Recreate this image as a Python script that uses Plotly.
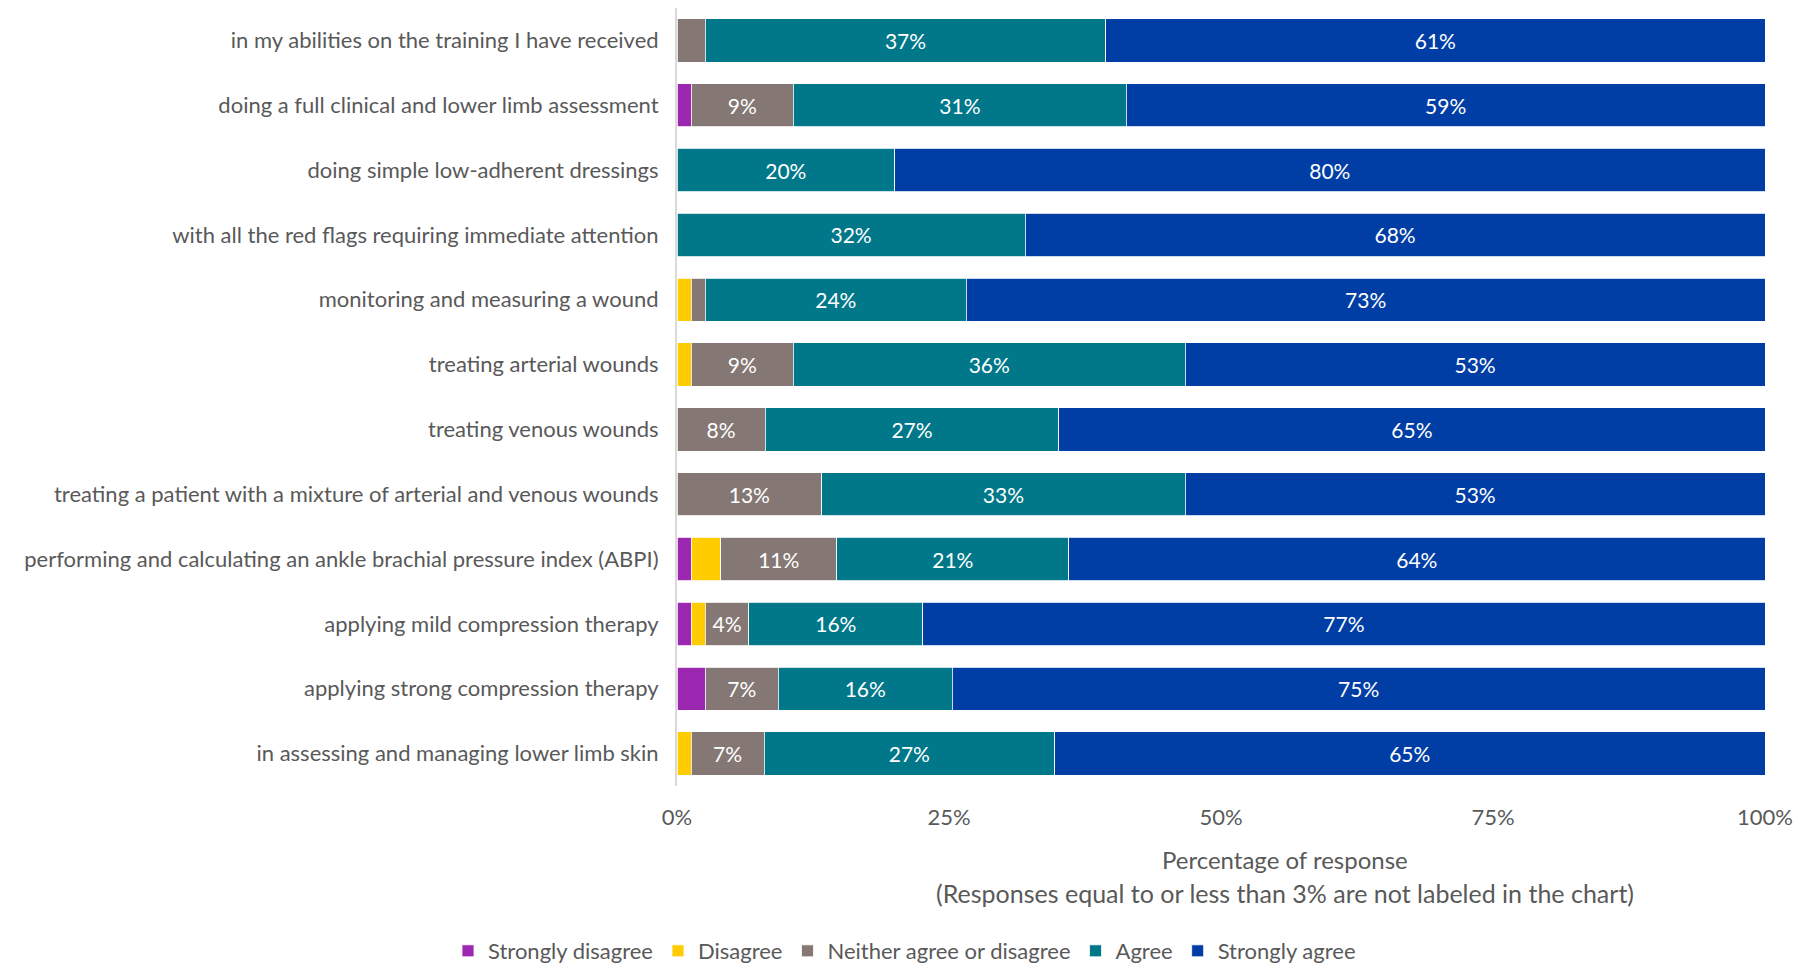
import plotly.graph_objects as go

# Survey statements (top to bottom)
statements = [
    "in my abilities on the training I have received",
    "doing a full clinical and lower limb assessment",
    "doing simple low-adherent dressings",
    "with all the red flags requiring immediate attention",
    "monitoring and measuring a wound",
    "treating arterial wounds",
    "treating venous wounds",
    "treating a patient with a mixture of arterial and venous wounds",
    "performing and calculating an ankle brachial pressure index (ABPI)",
    "applying mild compression therapy",
    "applying strong compression therapy",
    "in assessing and managing lower limb skin",
]

# Percentage of responses per answer option
strongly_disagree = [0, 1.3, 0, 0, 0, 0, 0, 0, 1.3, 1.3, 2.6, 0]
disagree = [0, 0, 0, 0, 1.3, 1.3, 0, 0, 2.7, 1.3, 0, 1.3]
neither = [2.6, 9.4, 0, 0, 1.3, 9.4, 8.1, 13.3, 10.7, 4.0, 6.7, 6.7]
agree = [36.8, 30.6, 20.0, 32.0, 24.0, 36.0, 27.0, 33.4, 21.3, 16.0, 16.0, 26.7]
strongly_agree = [60.6, 58.7, 80.0, 68.0, 73.4, 53.3, 64.9, 53.3, 64.0, 77.4, 74.7, 65.3]

series = [
    ("Strongly disagree", strongly_disagree, "#9C27B0"),
    ("Disagree", disagree, "#FFCC00"),
    ("Neither agree or disagree", neither, "#857874"),
    ("Agree", agree, "#00788A"),
    ("Strongly agree", strongly_agree, "#003EA6"),
]

x_ticks = [0, 25, 50, 75, 100]
x_tick_labels = [f"{v}%" for v in x_ticks]

FONT = "Lato"
GREY_TEXT = "#595959"


def label(v):
    # responses of 3% or less stay unlabelled
    return f"{round(v)}%" if v > 3 else ""


fig = go.Figure()
for name, vals, color in series:
    fig.add_trace(go.Bar(
        name=name,
        y=statements,
        x=vals,
        orientation="h",
        marker=dict(color=color, line=dict(color="white", width=0.8)),
        text=[label(v) for v in vals],
        texttemplate="%{text}",
        textposition="inside",
        insidetextanchor="middle",
        textangle=0,
        textfont=dict(family=FONT, size=21, color="white"),
        hoverinfo="skip",
    ))

fig.update_layout(
    barmode="stack",
    bargap=0.33,
    width=1809,
    height=965,
    margin=dict(l=677, r=44, t=8, b=179),
    paper_bgcolor="white",
    plot_bgcolor="white",
    font=dict(family=FONT, size=22, color=GREY_TEXT),
    xaxis=dict(
        range=[0, 100],
        tickmode="array",
        tickvals=x_ticks,
        ticktext=x_tick_labels,
        showgrid=False,
        zeroline=False,
        showline=False,
        ticks="",
        ticklabelstandoff=16,
        tickfont=dict(family=FONT, size=22, color=GREY_TEXT),
        fixedrange=True,
    ),
    yaxis=dict(
        autorange="reversed",
        showgrid=False,
        zeroline=False,
        showline=True,
        linecolor="#d9d9d9",
        linewidth=2,
        ticks="",
        ticklabelstandoff=12,
        tickfont=dict(family=FONT, size=22, color=GREY_TEXT),
        fixedrange=True,
    ),
    legend=dict(
        orientation="h",
        xref="container",
        yref="container",
        x=0.5,
        xanchor="center",
        y=0.0145,
        yanchor="middle",
        font=dict(family=FONT, size=22, color=GREY_TEXT),
        traceorder="normal",
        itemclick=False,
        itemdoubleclick=False,
    ),
    annotations=[
        dict(text="Percentage of response", xref="paper", yref="paper",
             x=0.559, y=-0.094, xanchor="center", yanchor="middle",
             showarrow=False, font=dict(family=FONT, size=24, color=GREY_TEXT)),
        dict(text="(Responses equal to or less than 3% are not labeled in the chart)",
             xref="paper", yref="paper",
             x=0.559, y=-0.137, xanchor="center", yanchor="middle",
             showarrow=False, font=dict(family=FONT, size=25, color=GREY_TEXT)),
    ],
)

fig.write_html("out.html")
